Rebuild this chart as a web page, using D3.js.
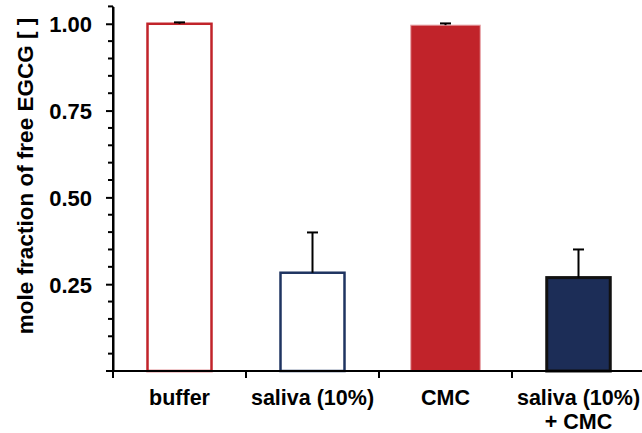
<!DOCTYPE html>
<html><head><meta charset="utf-8">
<script src="https://cdn.jsdelivr.net/npm/d3@7"></script>
<style>body{margin:0;background:#fff}svg{display:block}text{font-family:"Liberation Sans",Arial,sans-serif;font-weight:bold}</style>
</head><body>
<svg id="c" width="642" height="433"></svg>
<script>
const categories = ["buffer", "saliva (10%)", "CMC", "saliva (10%)\n+ CMC"];
const values = [1.000, 0.283, 0.996, 0.269];
const errors = [0.004, 0.116, 0.005, 0.081];
const fills = ["#ffffff", "#ffffff", "#c1232a", "#1c2d57"];
const strokes = ["#c1232a", "#1f3461", "#e6a3a6", "#111111"];
const strokeWidths = [2.5, 2.5, 1, 3];
const yTickValues = [0.25, 0.50, 0.75, 1.00];
const yMinorTicks = [0.05,0.10,0.15,0.20,0.30,0.35,0.40,0.45,0.55,0.60,0.65,0.70,0.80,0.85,0.90,0.95,1.05];
const yTitle = "mole fraction of free EGCG [ ]";

const svg = d3.select("#c");
const x = d3.scaleBand().domain(categories).range([113, 645]).paddingInner(0.5).paddingOuter(0.25);
const y = d3.scaleLinear().domain([0, 1.05]).range([371, 6.4]);
const bw = x.bandwidth();

// bars
categories.forEach((c, i) => {
  const sw = strokeWidths[i];
  const inset = i === 2 ? 0 : sw / 2;
  svg.append("rect")
    .attr("x", x(c) + inset - (i===2?1.5:0))
    .attr("width", bw - 2 * inset + (i===2?3:0))
    .attr("y", y(values[i]))
    .attr("height", y(0) - y(values[i]))
    .attr("fill", fills[i])
    .attr("stroke", strokes[i])
    .attr("stroke-width", sw);
  const cx = x(c) + bw / 2;
  svg.append("line").attr("x1", cx).attr("x2", cx)
    .attr("y1", y(values[i])).attr("y2", y(values[i] + errors[i]))
    .attr("stroke", "#000").attr("stroke-width", 2);
  svg.append("line").attr("x1", cx - 5.5).attr("x2", cx + 5.5)
    .attr("y1", y(values[i] + errors[i])).attr("y2", y(values[i] + errors[i]))
    .attr("stroke", "#000").attr("stroke-width", 2);
});

// y axis
const yAxis = svg.append("g").attr("transform", "translate(113,0)")
  .call(d3.axisLeft(y).tickValues(yTickValues).tickFormat(d3.format(".2f")).tickSize(7).tickPadding(14).tickSizeOuter(0));
yAxis.select(".domain").attr("stroke-width", 2);
yAxis.selectAll(".tick line").attr("stroke-width", 2);
yAxis.selectAll(".tick text").attr("font-size", 22).attr("fill", "#000").attr("dy", "0.36em");
svg.append("g").selectAll("line").data(yMinorTicks).join("line")
  .attr("x1", 108).attr("x2", 113).attr("y1", d => y(d)).attr("y2", d => y(d))
  .attr("stroke", "#000").attr("stroke-width", 2);
svg.append("line").attr("x1", 113).attr("x2", 113).attr("y1", y(1.05)).attr("y2", y(0))
  .attr("stroke", "#000").attr("stroke-width", 2);

// x axis
const xAxis = svg.append("g").attr("transform", "translate(0,371)")
  .call(d3.axisBottom(x).tickSize(0).tickPadding(0).tickSizeOuter(0));
xAxis.select(".domain").remove();
xAxis.selectAll(".tick text").each(function(d) {
  const t = d3.select(this);
  const lines = d.split("\n");
  t.text(null).attr("font-size", 21.5).attr("fill", "#000").attr("dy", null).attr("y", 0);
  lines.forEach((l, k) => t.append("tspan").attr("x", 0).attr("y", 33.5 + k * 24).text(l));
});
svg.append("line").attr("x1", 106).attr("x2", 642).attr("y1", 371).attr("y2", 371)
  .attr("stroke", "#000").attr("stroke-width", 2);
svg.append("g").selectAll("line").data(categories).join("line")
  .attr("x1", d => x(d) - x.step() * x.paddingInner() / 2)
  .attr("x2", d => x(d) - x.step() * x.paddingInner() / 2)
  .attr("y1", 371).attr("y2", 378)
  .attr("stroke", "#000").attr("stroke-width", 2);

// y title
svg.append("text").attr("transform", "translate(32.5,176) rotate(-90)")
  .attr("text-anchor", "middle").attr("font-size", 22.5).attr("fill", "#000").text(yTitle);
</script>
</body></html>
